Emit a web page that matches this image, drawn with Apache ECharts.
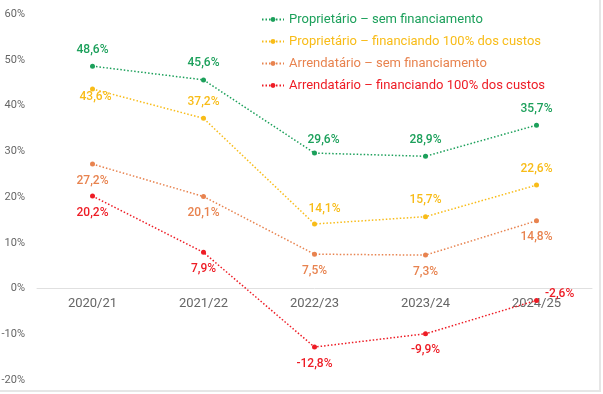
<!DOCTYPE html>
<html><head><meta charset="utf-8">
<script src="https://cdn.jsdelivr.net/npm/echarts@6/dist/echarts.min.js"></script>
<style>
html,body{margin:0;padding:0;background:#fff;}
#frame{position:absolute;left:0;top:0;width:599px;height:390px;border-right:2px solid #e6e6e6;border-bottom:2px solid #e6e6e6;}
#main{position:absolute;left:0;top:0;width:603px;height:394px;}
</style></head>
<body>
<div id="frame"></div>
<div id="main"></div>
<script>
const categories = ['2020/21','2021/22','2022/23','2023/24','2024/25'];
const seriesNames = [
  'Proprietário – sem financiamento',
  'Proprietário – financiando 100% dos custos',
  'Arrendatário – sem financiamento',
  'Arrendatário – financiando 100% dos custos'
];
const propSem = [48.6, 45.6, 29.6, 28.9, 35.7];
const propFin = [43.6, 37.2, 14.1, 15.7, 22.6];
const arrSem = [27.2, 20.1, 7.5, 7.3, 14.8];
const arrFin = [20.2, 7.9, -12.8, -9.9, -2.6];
const yTicks = [-20, -10, 0, 10, 20, 30, 40, 50, 60];

const colors = ['#1ca05b', '#f8bc18', '#e8834f', '#ee1c25'];
const values = [propSem, propFin, arrSem, arrFin];
const labelCfg = [
  [{position:'top'},{position:'top'},{position:'top',offset:[9,3]},{position:'top'},{position:'top'}],
  [{position:'inside',offset:[3,8]},{position:'top'},{position:'top',offset:[10,2]},{position:'top'},{position:'top'}],
  [{position:'bottom'},{position:'bottom'},{position:'bottom'},{position:'bottom'},{position:'bottom'}],
  [{position:'bottom'},{position:'bottom'},{position:'bottom'},{position:'bottom'},{position:'right',offset:[-2,-6]}]
];
const fmt = v => v.toFixed(1).replace('.', ',') + '%';

const gridTop = 14, gridBottom = 14, H = 394;
const yMin = yTicks[0], yMax = yTicks[yTicks.length - 1];
const zeroOffset = (H - gridTop - gridBottom) * (0 - yMin) / (yMax - yMin);

const chart = echarts.init(document.getElementById('main'));
chart.setOption({
  animation: false,
  textStyle: {fontFamily: 'Roboto'},
  grid: {left: 37, right: 11, top: gridTop, bottom: gridBottom, outerBoundsMode: 'none', containLabel: false},
  legend: {
    orient: 'vertical',
    left: 256,
    top: 8,
    itemWidth: 22,
    itemHeight: 6,
    itemGap: 9,
    data: seriesNames.map((n, i) => ({name: n, textStyle: {color: colors[i]}})),
    textStyle: {fontSize: 13, fontFamily: 'Roboto'}
  },
  xAxis: [{
    type: 'category',
    data: categories,
    boundaryGap: true,
    axisLine: {onZero: true, lineStyle: {color: '#e0e0e0', width: 1}},
    axisTick: {show: false},
    axisLabel: {show: false}
  }, {
    type: 'category',
    data: categories,
    position: 'bottom',
    offset: -zeroOffset,
    boundaryGap: true,
    axisLine: {show: false, onZero: false},
    axisTick: {show: false},
    axisLabel: {color: '#666', fontSize: 13, margin: 9}
  }],
  yAxis: {
    type: 'value',
    min: yMin,
    max: yMax,
    interval: 10,
    splitLine: {show: false},
    axisLine: {show: false},
    axisTick: {show: false},
    axisLabel: {color: '#666', fontSize: 11, margin: 12, formatter: v => v + '%'}
  },
  series: values.map((arr, i) => ({
    name: seriesNames[i],
    type: 'line',
    xAxisIndex: 0,
    symbol: 'circle',
    symbolSize: 5,
    color: colors[i],
    lineStyle: {type: [1.5, 2], width: 1.5, color: colors[i]},
    itemStyle: {color: colors[i]},
    label: {show: true, color: colors[i], fontSize: 12, fontWeight: 500, distance: 8, formatter: p => fmt(p.value)},
    data: arr.map((v, j) => ({value: v, label: labelCfg[i][j]}))
  }))
});
</script>
</body></html>
